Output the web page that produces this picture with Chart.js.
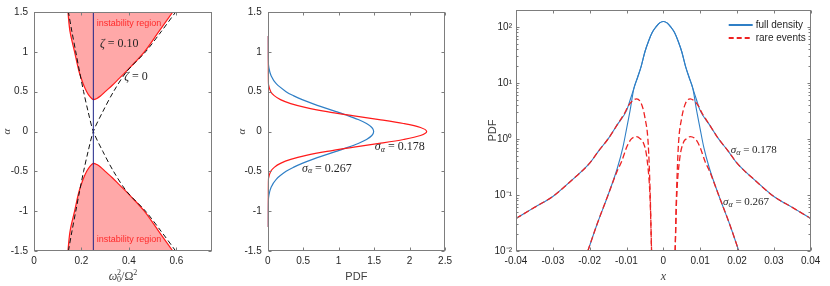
<!DOCTYPE html>
<html>
<head>
<meta charset="utf-8">
<script src="https://cdn.jsdelivr.net/npm/chart.js@4.4.0/dist/chart.umd.min.js"></script>
<style>
  html, body { margin: 0; padding: 0; background: #fff; }
  #wrap { position: relative; width: 830px; height: 286px; }
  canvas { position: absolute; top: 0; }
</style>
</head>
<body>
<div id="wrap">
  <canvas id="c1" width="222" height="286" style="left:0px"></canvas>
  <canvas id="c2" width="222" height="286" style="left:234px"></canvas>
  <canvas id="c3" width="360" height="286" style="left:470px"></canvas>
</div>
<script>
// ---- panel 1 : stability chart (alpha vs w0^2/W^2)
const p1XTicks = [0, 0.2, 0.4, 0.6];
const p1YTicks = [-1.5, -1, -0.5, 0, 0.5, 1, 1.5];
const vlineP = [0.25, 0.25];
const vlineA = [-1.5, 1.5];
// zeta = 0 boundaries (dashed)
const zeta0AP = [0.145, 0.16, 0.176, 0.192, 0.209, 0.228, 0.25, 0.29, 0.335, 0.39, 0.47, 0.535, 0.597];
const zeta0AA = [-1.5, -1.25, -1, -0.75, -0.5, -0.25, 0, 0.25, 0.5, 0.75, 1, 1.25, 1.5];
const zeta0BP = [0.597, 0.535, 0.47, 0.39, 0.335, 0.29, 0.25, 0.228, 0.209, 0.192, 0.176, 0.16, 0.145];
const zeta0BA = [-1.5, -1.25, -1, -0.75, -0.5, -0.25, 0, 0.25, 0.5, 0.75, 1, 1.25, 1.5];
// zeta = 0.10 instability regions
const upperP = [0.143, 0.152, 0.171, 0.19, 0.207, 0.222, 0.235, 0.25, 0.265, 0.28, 0.3, 0.33, 0.36, 0.41, 0.465, 0.525, 0.585];
const upperA = [1.5, 1.25, 1.0, 0.75, 0.6, 0.5, 0.44, 0.40, 0.415, 0.445, 0.5, 0.58, 0.67, 0.82, 1.0, 1.25, 1.5];
const lowerP = [0.143, 0.152, 0.171, 0.19, 0.207, 0.222, 0.235, 0.25, 0.265, 0.28, 0.3, 0.33, 0.36, 0.41, 0.465, 0.525, 0.585];
const lowerA = [-1.5, -1.25, -1.0, -0.75, -0.6, -0.5, -0.44, -0.40, -0.415, -0.445, -0.5, -0.58, -0.67, -0.82, -1.0, -1.25, -1.5];

// ---- panel 2 : PDF of alpha
const p2XTicks = [0, 0.5, 1, 1.5, 2, 2.5];
const p2YTicks = [-1.5, -1, -0.5, 0, 0.5, 1, 1.5];
const p2Alpha = [-1.2, -1.0, -0.9, -0.8, -0.7, -0.6, -0.5, -0.45, -0.4, -0.35, -0.3, -0.25, -0.2, -0.15, -0.1, -0.05, 0,
                 0.05, 0.1, 0.15, 0.2, 0.25, 0.3, 0.35, 0.4, 0.45, 0.5, 0.6, 0.7, 0.8, 0.9, 1.0, 1.2];
const pdf267 = [0, 0.001, 0.005, 0.017, 0.048, 0.12, 0.259, 0.361, 0.486, 0.633, 0.795, 0.964, 1.129, 1.276, 1.393, 1.468, 1.494,
                1.468, 1.393, 1.276, 1.129, 0.964, 0.795, 0.633, 0.486, 0.361, 0.259, 0.12, 0.048, 0.017, 0.005, 0.001, 0];
const pdf178 = [0, 0, 0, 0, 0.001, 0.008, 0.043, 0.092, 0.18, 0.324, 0.542, 0.836, 1.192, 1.571, 1.914, 2.154, 2.241,
                2.154, 1.914, 1.571, 1.192, 0.836, 0.542, 0.324, 0.18, 0.092, 0.043, 0.008, 0.001, 0, 0, 0, 0];

// ---- panel 3 : PDF of x (log)
const p3XTicks = [-0.04, -0.03, -0.02, -0.01, 0, 0.01, 0.02, 0.03, 0.04];
const p3YTicks = [0.01, 0.1, 1, 10, 100];
const p3YTickLabels = ['10\u207B\u00B2', '10\u207B\u00B9', '10\u2070', '10\u00B9', '10\u00B2'];
const fullAX = [-0.04, -0.035, -0.03, -0.025, -0.02, -0.0175, -0.015, -0.0125, -0.01, -0.009, -0.008, -0.007, -0.006, -0.005, -0.004, -0.003, -0.002, -0.001, 0,
                0.001, 0.002, 0.003, 0.004, 0.005, 0.006, 0.007, 0.008, 0.009, 0.01, 0.0125, 0.015, 0.0175, 0.02, 0.025, 0.03, 0.035, 0.04];
const fullAY = [0.038, 0.06, 0.094, 0.18, 0.37, 0.62, 1.0, 1.8, 3.2, 5.0, 8.0, 12.5, 20, 36, 56, 80, 100, 118, 125,
                118, 100, 80, 56, 36, 20, 12.5, 8.0, 5.0, 3.2, 1.8, 1.0, 0.62, 0.37, 0.18, 0.094, 0.06, 0.038];
const fullBX = [-0.0205, -0.018, -0.015, -0.0125, -0.011, -0.01, -0.009, -0.008, -0.007, -0.006, -0.005, -0.004, -0.003, -0.002, -0.001, 0,
                0.001, 0.002, 0.003, 0.004, 0.005, 0.006, 0.007, 0.008, 0.009, 0.01, 0.011, 0.0125, 0.015, 0.018, 0.0205];
const fullBY = [0.01, 0.03, 0.1, 0.3, 0.7, 1.5, 3.3, 8.0, 12.5, 20, 36, 56, 80, 100, 118, 125,
                118, 100, 80, 56, 36, 20, 12.5, 8.0, 3.3, 1.5, 0.7, 0.3, 0.1, 0.03, 0.01];
const rareAX = [-0.04, -0.035, -0.03, -0.025, -0.02, -0.0175, -0.015, -0.0125, -0.0105, -0.0095, -0.0085, -0.0073, -0.006, -0.005, -0.0041, -0.0036, -0.0032, 0,
                0.0032, 0.0036, 0.0041, 0.005, 0.006, 0.0073, 0.0085, 0.0095, 0.0105, 0.0125, 0.015, 0.0175, 0.02, 0.025, 0.03, 0.035, 0.04];
const rareAY = [0.038, 0.06, 0.094, 0.18, 0.37, 0.62, 1.0, 1.8, 2.9, 3.9, 4.7, 5.2, 4.3, 2.4, 0.8, 0.12, 0.01, null,
                0.01, 0.12, 0.8, 2.4, 4.3, 5.2, 4.7, 3.9, 2.9, 1.8, 1.0, 0.62, 0.37, 0.18, 0.094, 0.06, 0.038];
const rareBX = [-0.0205, -0.018, -0.015, -0.0125, -0.0113, -0.01, -0.0088, -0.0073, -0.0062, -0.0055, -0.0044, -0.0036, -0.0032, 0,
                0.0032, 0.0036, 0.0044, 0.0055, 0.0062, 0.0073, 0.0088, 0.01, 0.0113, 0.0125, 0.015, 0.018, 0.0205];
const rareBY = [0.01, 0.03, 0.1, 0.27, 0.4, 0.7, 0.98, 1.1, 1.0, 0.88, 0.42, 0.085, 0.01, null,
                0.01, 0.085, 0.42, 0.88, 1.0, 1.1, 0.98, 0.7, 0.4, 0.27, 0.1, 0.03, 0.01];

const SANS = '"Liberation Sans", Arial, sans-serif';
const SERIF = '"Liberation Serif", "Times New Roman", serif';
const TXT = '#262626';
const BLUE = '#2f7fc6';
const RED = '#ff1a1a';

function pts(xs, ys) {
  return xs.map((x, i) => ({ x: x, y: ys[i] }));
}

function partFont(p) {
  return (p.it ? 'italic ' : '') + (p.s || 12) + 'px ' + (p.f || SERIF);
}

function drawParts(ctx, parts, x, y, align, color) {
  ctx.save();
  ctx.fillStyle = color || TXT;
  ctx.textBaseline = 'middle';
  ctx.textAlign = 'left';
  let w = 0;
  const widths = parts.map(p => {
    ctx.font = partFont(p);
    const m = ctx.measureText(p.t).width;
    if (!p.keep) w += m;
    return m;
  });
  let cx = align === 'center' ? x - w / 2 : x;
  parts.forEach((p, i) => {
    ctx.font = partFont(p);
    ctx.fillText(p.t, cx, y + (p.dy || 0));
    if (!p.keep) cx += widths[i];
  });
  ctx.restore();
}

// box, inward ticks, annotations, axis titles, legend
const frame = {
  id: 'frame',
  afterDatasetsDraw(chart, args, opts) {
    const { ctx, chartArea: a, scales } = chart;
    const L = Math.round(a.left) + 0.5, R = Math.round(a.right) - 0.5;
    const T = Math.round(a.top) + 0.5, B = Math.round(a.bottom) - 0.5;
    ctx.save();
    ctx.strokeStyle = '#7d7d7d';
    ctx.lineWidth = 1;
    ctx.strokeRect(L, T, R - L, B - T);
    ctx.beginPath();
    scales.x.ticks.forEach(t => {
      const px = Math.round(scales.x.getPixelForValue(t.value)) + 0.5;
      ctx.moveTo(px, B); ctx.lineTo(px, B - 3);
      ctx.moveTo(px, T); ctx.lineTo(px, T + 3);
    });
    scales.y.ticks.forEach(t => {
      const py = Math.round(scales.y.getPixelForValue(t.value)) + 0.5;
      ctx.moveTo(L, py); ctx.lineTo(L + 3, py);
      ctx.moveTo(R, py); ctx.lineTo(R - 3, py);
    });
    if (opts.minorLog) {
      for (let d = 0.01; d < 200; d *= 10) {
        for (let k = 2; k <= 9; k++) {
          const v = k * d;
          if (v > scales.y.max) break;
          const py = Math.round(scales.y.getPixelForValue(v)) + 0.5;
          ctx.moveTo(L, py); ctx.lineTo(L + 2, py);
          ctx.moveTo(R, py); ctx.lineTo(R - 2, py);
        }
      }
    }
    ctx.stroke();
    ctx.restore();

    (opts.notes || []).forEach(n => {
      drawParts(ctx, n.parts, scales.x.getPixelForValue(n.x), scales.y.getPixelForValue(n.y), n.align, n.color);
    });

    const cx = (a.left + a.right) / 2, cy = (a.top + a.bottom) / 2;
    if (opts.xTitle) drawParts(ctx, opts.xTitle, cx, a.bottom + 26, 'center', '#404040');
    if (opts.yTitle) {
      ctx.save();
      ctx.translate(a.left - opts.yTitleOff, cy);
      ctx.rotate(-Math.PI / 2);
      drawParts(ctx, opts.yTitle, 0, 0, 'center', '#404040');
      ctx.restore();
    }

    (opts.legend || []).forEach((e, i) => {
      const y = a.top + 15 + i * 13;
      const x0 = a.right - 82;
      ctx.save();
      ctx.strokeStyle = e.color;
      ctx.lineWidth = 2;
      ctx.setLineDash(e.dash || []);
      ctx.beginPath();
      ctx.moveTo(x0, y); ctx.lineTo(x0 + 24, y);
      ctx.stroke();
      ctx.restore();
      drawParts(ctx, [{ t: e.text, s: 10, f: SANS }], x0 + 27, y, 'left', TXT);
    });
  }
};

function axis(opts, tickExtra) {
  return Object.assign({
    type: 'linear',
    grid: { display: false, drawTicks: false },
    border: { display: false },
    ticks: Object.assign({ font: { family: SANS, size: 10 }, color: TXT, padding: 4, maxRotation: 0, autoSkip: false,
      callback: v => String(v) }, tickExtra || {})
  }, opts);
}

function base(pad, extra) {
  return {
    responsive: false,
    animation: false,
    devicePixelRatio: 1,
    layout: { padding: pad },
    plugins: Object.assign({ legend: { display: false }, tooltip: { enabled: false } }, extra)
  };
}

// ---------- panel 1
const opt1 = base({ top: 5, right: 10, left: 0, bottom: 0 }, {
  frame: {
    notes: [
      { x: 0.40, y: 1.354, parts: [{ t: 'instability region', s: 9, f: SANS }], align: 'center', color: '#ff2a2a' },
      { x: 0.40, y: -1.354, parts: [{ t: 'instability region', s: 9, f: SANS }], align: 'center', color: '#ff2a2a' },
      { x: 0.278, y: 1.10, parts: [{ t: '\u03B6', it: true }, { t: ' = 0.10' }], align: 'left' },
      { x: 0.38, y: 0.683, parts: [{ t: '\u03B6', it: true }, { t: ' = 0' }], align: 'left' }
    ],
    xTitle: [{ t: '\u03C9', it: true, s: 12 }, { t: '0', s: 8, dy: 3, keep: true }, { t: '2', s: 8, dy: -4 },
             { t: '/\u03A9', s: 12 }, { t: '2', s: 8, dy: -4 }],
    yTitle: [{ t: '\u03B1', it: true, s: 11 }],
    yTitleOff: 27
  }
});
opt1.scales = {
  x: axis({ min: 0, max: 0.75,
    afterBuildTicks: s => { s.ticks = p1XTicks.map(v => ({ value: v })); },
    afterFit: s => { s.height = 35; } }),
  y: axis({ min: -1.5, max: 1.5,
    afterBuildTicks: s => { s.ticks = p1YTicks.map(v => ({ value: v })); },
    afterFit: s => { s.width = 34; } }, { padding: 6 })
};

new Chart(document.getElementById('c1'), {
  type: 'line',
  data: {
    datasets: [
      { data: pts(vlineP, vlineA), borderColor: '#1c2487', borderWidth: 1, pointRadius: 0 },
      { data: pts(zeta0AP, zeta0AA), borderColor: '#111', borderWidth: 1, borderDash: [5, 3], pointRadius: 0, tension: 0.3 },
      { data: pts(zeta0BP, zeta0BA), borderColor: '#111', borderWidth: 1, borderDash: [5, 3], pointRadius: 0, tension: 0.3 },
      { data: pts(upperP, upperA), borderColor: RED, borderWidth: 1.2, pointRadius: 0, tension: 0.35,
        fill: 'end', backgroundColor: '#ffa8a8' },
      { data: pts(lowerP, lowerA), borderColor: RED, borderWidth: 1.2, pointRadius: 0, tension: 0.35,
        fill: 'start', backgroundColor: '#ffa8a8' }
    ]
  },
  options: opt1,
  plugins: [frame]
});

// ---------- panel 2
const sig178 = [{ t: '\u03C3', it: true }, { t: '\u03B1', it: true, s: 8, dy: 3 }, { t: ' = 0.178' }];
const sig267 = [{ t: '\u03C3', it: true }, { t: '\u03B1', it: true, s: 8, dy: 3 }, { t: ' = 0.267' }];
const opt2 = base({ top: 5, right: 10.5, left: 0, bottom: 0 }, {
  frame: {
    notes: [
      { x: 1.51, y: -0.195, parts: sig178, align: 'left' },
      { x: 0.483, y: -0.463, parts: sig267, align: 'left' }
    ],
    xTitle: [{ t: 'PDF', s: 11, f: SANS }],
    yTitle: [{ t: '\u03B1', it: true, s: 11 }],
    yTitleOff: 26
  }
});
opt2.scales = {
  x: axis({ min: 0, max: 2.5,
    afterBuildTicks: s => { s.ticks = p2XTicks.map(v => ({ value: v })); },
    afterFit: s => { s.height = 35; } }),
  y: axis({ min: -1.5, max: 1.5,
    afterBuildTicks: s => { s.ticks = p2YTicks.map(v => ({ value: v })); },
    afterFit: s => { s.width = 33.7; } }, { padding: 6 })
};

new Chart(document.getElementById('c2'), {
  type: 'line',
  data: {
    datasets: [
      { data: pts(pdf178, p2Alpha), borderColor: RED, borderWidth: 1.2, pointRadius: 0, tension: 0.3 },
      { data: pts(pdf267, p2Alpha), borderColor: BLUE, borderWidth: 1.2, pointRadius: 0, tension: 0.3 }
    ]
  },
  options: opt2,
  plugins: [frame]
});

// ---------- panel 3
const opt3 = base({ top: 5, right: 19.3, left: 0, bottom: 0 }, {
  frame: {
    minorLog: true,
    notes: [
      { x: 0.0183, y: 0.63, parts: sig178.map(p => Object.assign({}, p, { s: p.s === 8 ? 8 : 11 })), align: 'left' },
      { x: 0.0162, y: 0.076, parts: sig267.map(p => Object.assign({}, p, { s: p.s === 8 ? 8 : 11 })), align: 'left' }
    ],
    xTitle: [{ t: 'x', it: true, s: 12 }],
    yTitle: [{ t: 'PDF', s: 11, f: SANS }],
    yTitleOff: 23,
    legend: [
      { text: 'full density', color: BLUE },
      { text: 'rare events', color: '#ee2222', dash: [5, 3] }
    ]
  }
});
opt3.scales = {
  x: axis({ min: -0.04, max: 0.04,
    afterBuildTicks: s => { s.ticks = p3XTicks.map(v => ({ value: v })); },
    afterFit: s => { s.height = 35; } }),
  y: axis({ type: 'logarithmic', min: 0.01, max: 200,
    afterBuildTicks: s => { s.ticks = p3YTicks.map(v => ({ value: v })); },
    afterFit: s => { s.width = 46; } }, { padding: 4, callback: v => p3YTickLabels[p3YTicks.indexOf(v)] })
};

const lineCommon = { pointRadius: 0, cubicInterpolationMode: 'monotone', spanGaps: false };
new Chart(document.getElementById('c3'), {
  type: 'line',
  data: {
    datasets: [
      Object.assign({ data: pts(rareAX, rareAY), borderColor: '#ee2222', borderWidth: 1.3, borderDash: [6, 3] }, lineCommon),
      Object.assign({ data: pts(rareBX, rareBY), borderColor: '#ee2222', borderWidth: 1.3, borderDash: [6, 3] }, lineCommon),
      Object.assign({ data: pts(fullAX, fullAY), borderColor: BLUE, borderWidth: 1.1 }, lineCommon),
      Object.assign({ data: pts(fullBX, fullBY), borderColor: BLUE, borderWidth: 1.1 }, lineCommon)
    ]
  },
  options: opt3,
  plugins: [frame]
});
</script>
</body>
</html>
